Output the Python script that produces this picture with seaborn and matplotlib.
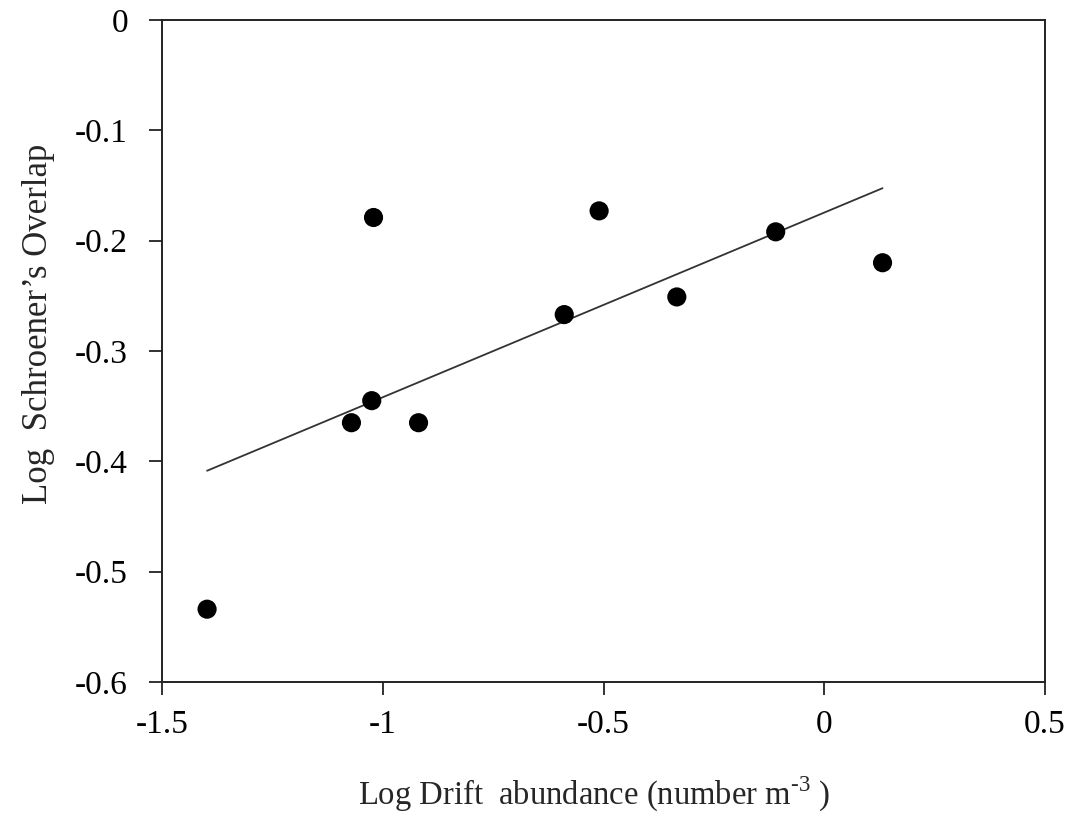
import numpy as np
import pandas as pd
import seaborn as sns
import matplotlib.pyplot as plt

# Values
log_drift = [-1.398, -1.071, -1.025, -1.021, -0.919, -0.589, -0.510, -0.334, -0.110, 0.132]
log_overlap = [-0.534, -0.365, -0.345, -0.179, -0.365, -0.267, -0.173, -0.251, -0.192, -0.220]

x_ticks = [-1.5, -1.0, -0.5, 0.0, 0.5]
x_tick_labels = ["-1.5", "-1", "-0.5", "0", "0.5"]
y_ticks = [0.0, -0.1, -0.2, -0.3, -0.4, -0.5, -0.6]
y_tick_labels = ["0", "-0.1", "-0.2", "-0.3", "-0.4", "-0.5", "-0.6"]

df = pd.DataFrame({"drift": log_drift, "overlap": log_overlap})

sns.set_style("ticks")
plt.rcParams["font.family"] = ["Liberation Serif", "DejaVu Serif"]
plt.rcParams["mathtext.fontset"] = "custom"
plt.rcParams["mathtext.rm"] = "Liberation Serif"
plt.rcParams["axes.unicode_minus"] = False

fig = plt.figure(figsize=(10.76, 8.16), dpi=100)
ax = fig.add_axes([0.1506, 0.1642, 0.8206, 0.8113])

sns.regplot(data=df, x="drift", y="overlap", scatter=False, ci=None, ax=ax,
            line_kws={"color": "#333333", "lw": 1.3})
sns.scatterplot(data=df, x="drift", y="overlap", ax=ax, color="black",
                s=190, edgecolor="none", zorder=3)

ax.set_xlim(-1.5, 0.5)
ax.set_ylim(-0.6, 0)
ax.set_xticks(x_ticks)
ax.set_xticklabels(x_tick_labels)
ax.set_yticks(y_ticks)
ax.set_yticklabels(y_tick_labels)
ax.tick_params(axis="both", direction="out", length=9.5, width=1.3,
               labelsize=24, color="#222222", labelcolor="black")
ax.tick_params(axis="x", pad=10)
ax.tick_params(axis="y", pad=15)
for sp in ax.spines.values():
    sp.set_linewidth(1.4)
    sp.set_color("#222222")

ax.set_xlabel("Log Drift  abundance (number m$^{\\text{-}3}$ )", fontsize=23.5)
ax.set_ylabel("Log  Schroener\u2019s Overlap", fontsize=25)
ax.xaxis.set_label_coords(0.489, -0.14)
ax.yaxis.set_label_coords(-0.121, 0.541)

fig.savefig("out.png", dpi=100)
